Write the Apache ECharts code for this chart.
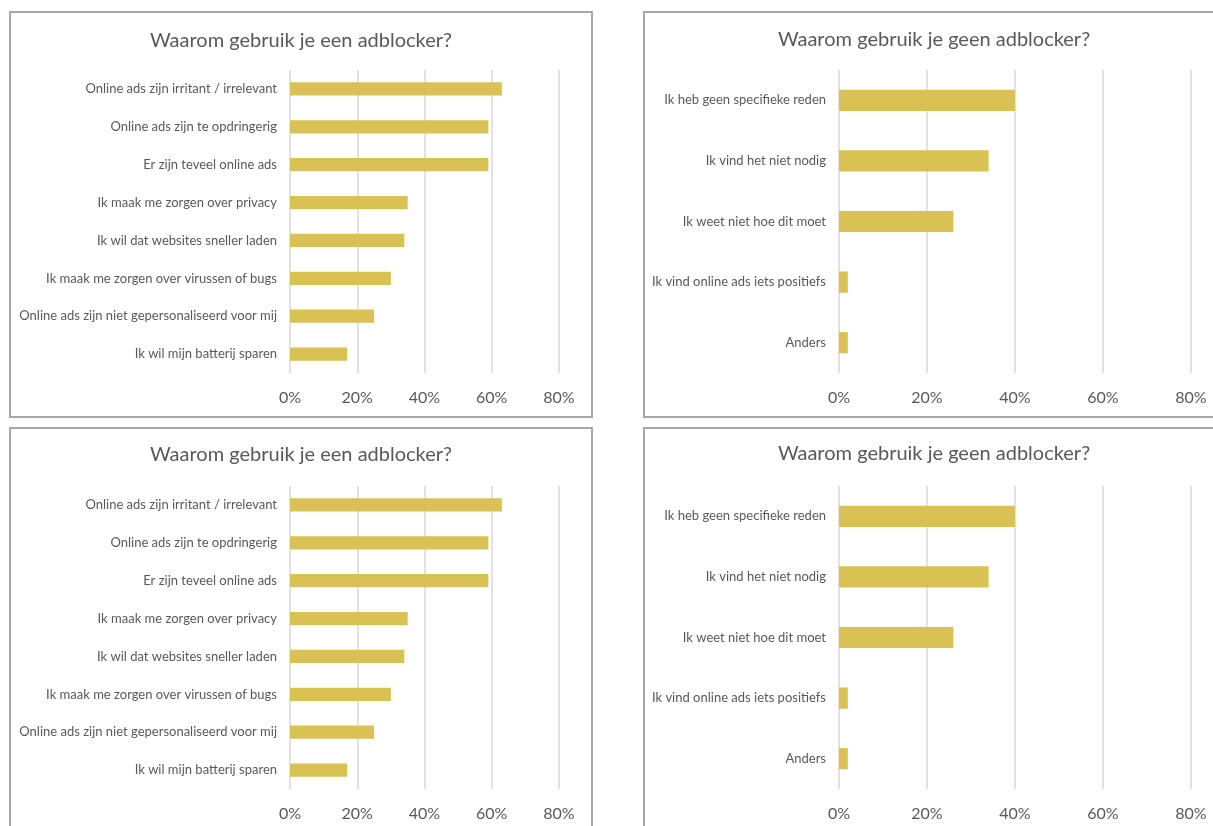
<!DOCTYPE html>
<html>
<head>
<meta charset="utf-8">
<script src="https://cdn.jsdelivr.net/npm/echarts@6/dist/echarts.min.js"></script>
<style>
  html, body { margin: 0; padding: 0; background: #fff; overflow: hidden; }
  #chart { width: 1213px; height: 826px; }
</style>
</head>
<body>
<div id="chart"></div>
<script>
// ---- data ----
const titleWith = 'Waarom gebruik je een adblocker?';
const titleWithout = 'Waarom gebruik je geen adblocker?';
const withCategories = [
  'Online ads zijn irritant / irrelevant',
  'Online ads zijn te opdringerig',
  'Er zijn teveel online ads',
  'Ik maak me zorgen over privacy',
  'Ik wil dat websites sneller laden',
  'Ik maak me zorgen over virussen of bugs',
  'Online ads zijn niet gepersonaliseerd voor mij',
  'Ik wil mijn batterij sparen'
];
const withValues = [63, 59, 59, 35, 34, 30, 25, 17];
const withoutCategories = [
  'Ik heb geen specifieke reden',
  'Ik vind het niet nodig',
  'Ik weet niet hoe dit moet',
  'Ik vind online ads iets positiefs',
  'Anders'
];
const withoutValues = [40, 34, 26, 2, 2];
const xTicks = [0, 20, 40, 60, 80];

// ---- styling ----
const FONT = 'Lato, "Open Sans", sans-serif';
const TEXT = '#595959';
const BAR = '#d9c154';
const GRIDLINE = '#d9d9d9';
const BORDER = '#a6a6a6';

const panels = [
  { cats: withCategories,    vals: withValues,    title: titleWith,    box: [10, 12],   grid: { left: 290, top: 70,  width: 269, height: 303 }, titlePos: [301, 31],  barW: '35%' },
  { cats: withoutCategories, vals: withoutValues, title: titleWithout, box: [644, 12],  grid: { left: 839, top: 70,  width: 352, height: 303 }, titlePos: [934, 30],  barW: '35%' },
  { cats: withCategories,    vals: withValues,    title: titleWith,    box: [10, 428],  grid: { left: 290, top: 486, width: 269, height: 303 }, titlePos: [301, 445], barW: '35%' },
  { cats: withoutCategories, vals: withoutValues, title: titleWithout, box: [644, 428], grid: { left: 839, top: 486, width: 352, height: 303 }, titlePos: [934, 444], barW: '35%' }
];

const option = {
  animation: false,
  backgroundColor: '#fff',
  title: panels.map(p => ({
    text: p.title,
    left: p.titlePos[0],
    top: p.titlePos[1],
    padding: 0,
    textAlign: 'center',
    textStyle: { fontFamily: FONT, fontSize: 20, fontWeight: 'normal', color: TEXT }
  })),
  graphic: panels.map(p => ({
    type: 'rect',
    shape: { x: p.box[0], y: p.box[1], width: 582, height: 405 },
    style: { fill: 'none', stroke: BORDER, lineWidth: 2 },
    silent: true,
    z: -10
  })),
  grid: panels.map(p => Object.assign({ containLabel: false }, p.grid)),
  xAxis: panels.map((p, i) => ({
    type: 'value',
    gridIndex: i,
    min: xTicks[0],
    max: xTicks[xTicks.length - 1],
    interval: xTicks[1] - xTicks[0],
    axisLine: { show: false },
    axisTick: { show: false },
    splitLine: { show: true, lineStyle: { color: GRIDLINE, width: 1.5 } },
    axisLabel: { formatter: '{value}%', fontFamily: FONT, fontSize: 16, color: TEXT, margin: 17 }
  })),
  yAxis: panels.map((p, i) => ({
    type: 'category',
    gridIndex: i,
    inverse: true,
    data: p.cats,
    axisLine: { show: false },
    axisTick: { show: false },
    splitLine: { show: false },
    axisLabel: { fontFamily: FONT, fontSize: 13, color: TEXT, margin: 13 }
  })),
  series: panels.map((p, i) => ({
    type: 'bar',
    xAxisIndex: i,
    yAxisIndex: i,
    data: p.vals,
    barWidth: p.barW,
    itemStyle: { color: BAR },
    silent: true
  }))
};

const chart = echarts.init(document.getElementById('chart'), null, { renderer: 'canvas' });
chart.setOption(option);
</script>
</body>
</html>
